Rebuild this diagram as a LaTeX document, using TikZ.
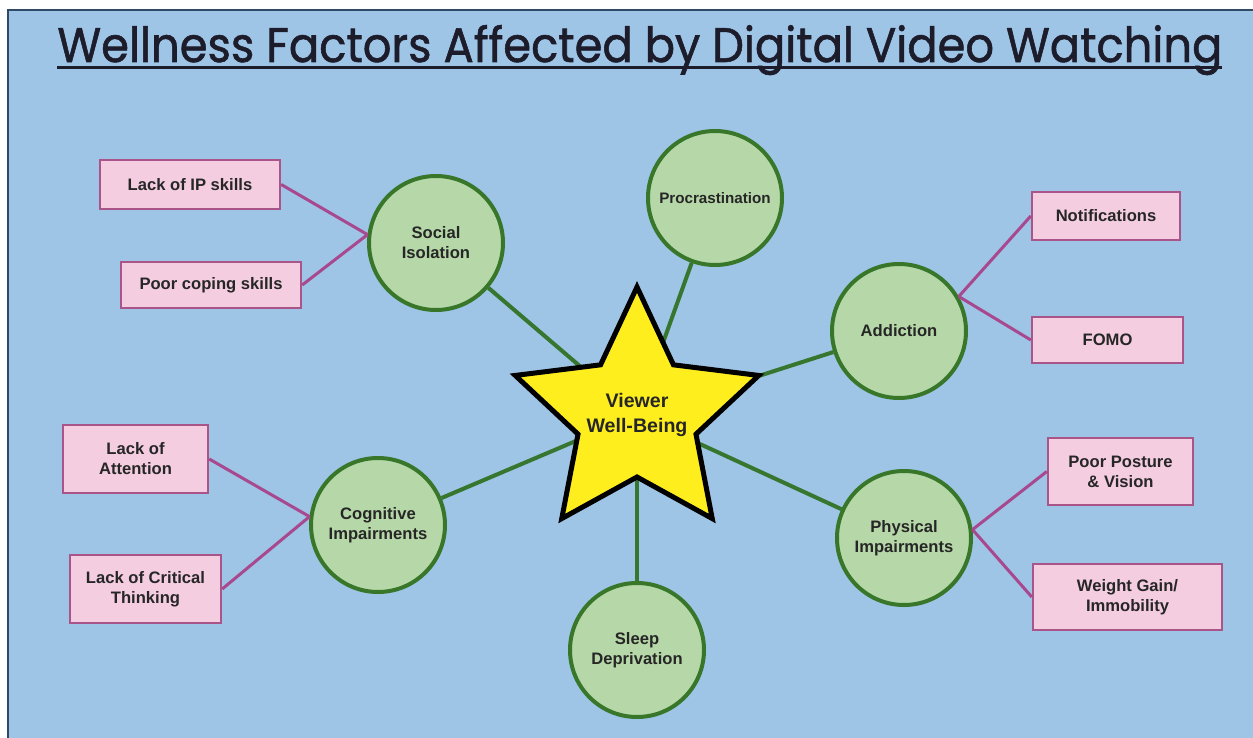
\documentclass[tikz,border=0pt]{standalone}
\usepackage{fontspec}
\setmainfont{Liberation Sans}
\newfontfamily\titlefont[FakeBold=1.2]{Poppins}
\usepackage{graphicx}
\definecolor{bg}{HTML}{9EC4E6}
\definecolor{frame}{HTML}{2E4A66}
\definecolor{cfill}{HTML}{B6D8A8}
\definecolor{cdraw}{HTML}{38762A}
\definecolor{lgreen}{HTML}{37762E}
\definecolor{pfill}{HTML}{F4CDE0}
\definecolor{pdraw}{HTML}{A9558A}
\definecolor{mag}{HTML}{A8488F}
\definecolor{starfill}{HTML}{FFEE1E}
\definecolor{txt}{HTML}{262626}
\definecolor{ttl}{HTML}{1C1C2A}
\begin{document}
\begin{tikzpicture}[x=0.5pt,y=-0.5pt,
  circ/.style={circle, draw=cdraw, line width=2pt, fill=cfill, minimum size=67pt, inner sep=0pt,
    align=center, text=txt, font=\bfseries\fontsize{8.3}{10}\selectfont},
  pbox/.style={rectangle, draw=pdraw, line width=1.2pt, fill=pfill, inner sep=0pt,
    align=center, text=txt, font=\bfseries\fontsize{8.3}{10}\selectfont},
  gline/.style={draw=lgreen, line width=2pt},
  mline/.style={draw=mag, line width=1.5pt},
  starsty/.style={draw=black, line width=2.5pt, fill=starfill}]
\useasboundingbox (0,0) rectangle (1253,738);
\fill[white] (0,0) rectangle (1253,738);
\fill[bg] (8,10) rectangle (1253,738);
\draw[frame, line width=1.2pt] (8,738) -- (8,10) -- (1253,10);

% title
\node[anchor=base west, inner sep=0pt, text=ttl] (title) at (57,62)
  {\resizebox{582.5pt}{18.5pt}{\titlefont Wellness Factors Affected by Digital Video Watching}};
\draw[ttl, line width=1.5pt] (57,68) -- (1222,68);

\coordinate (sc) at (637,415);

% circles
\node[circ] (soc) at (436,243) {Social\\Isolation};
\node[circ, font=\bfseries\fontsize{7.6}{9}\selectfont] (pro) at (715,198) {Procrastination};
\node[circ] (add) at (899,331) {Addiction};
\node[circ] (cog) at (378,525) {Cognitive\\Impairments};
\node[circ] (phy) at (904,538) {Physical\\Impairments};
\node[circ] (slp) at (637,650) {Sleep\\Deprivation};

% green connectors
\draw[gline] (sc) -- (soc);
\draw[gline] (sc) -- (pro);
\draw[gline] (sc) -- (add);
\draw[gline] (sc) -- (cog);
\draw[gline] (sc) -- (phy);
\draw[gline] (sc) -- (slp);

% star
\draw[starsty, shift={(sc)}] (270:128) -- (306:62) -- (342:128) -- (18:62) -- (54:128) -- (90:62)
  -- (126:128) -- (162:62) -- (198:128) -- (234:62) -- cycle;
\node[align=center, text=txt, inner sep=0pt, font=\bfseries\fontsize{9.8}{12.2}\selectfont] (star) at (sc) {Viewer\\Well-Being};

% pink boxes
\node[pbox, minimum width=90pt, minimum height=24.5pt] (ip) at (190,184.5) {Lack of IP skills};
\node[pbox, minimum width=90pt, minimum height=23pt] (cope) at (211,285) {Poor coping skills};
\node[pbox, minimum width=74pt, minimum height=24pt] (notif) at (1106,216) {Notifications};
\node[pbox, minimum width=75.5pt, minimum height=23pt] (fomo) at (1107.5,340) {FOMO};
\node[pbox, minimum width=72.5pt, minimum height=34pt] (att) at (135.5,459) {Lack of\\Attention};
\node[pbox, minimum width=75.5pt, minimum height=34pt] (crit) at (145.5,589) {Lack of Critical\\Thinking};
\node[pbox, minimum width=72.5pt, minimum height=33.5pt] (post) at (1120.5,471.5) {Poor Posture\\\& Vision};
\node[pbox, minimum width=94.5pt, minimum height=33pt] (wgt) at (1127.5,597) {Weight Gain/\\Immobility};

% magenta connectors
\draw[mline] (ip.east) -- (soc.173);
\draw[mline] (cope.east) -- (soc.173);
\draw[mline] (notif.west) -- (add.30);
\draw[mline] (fomo.west) -- (add.30);
\draw[mline] (att.east) -- (cog.173);
\draw[mline] (crit.east) -- (cog.173);
\draw[mline] (post.west) -- (phy.7);
\draw[mline] (wgt.west) -- (phy.7);
\end{tikzpicture}
\end{document}
